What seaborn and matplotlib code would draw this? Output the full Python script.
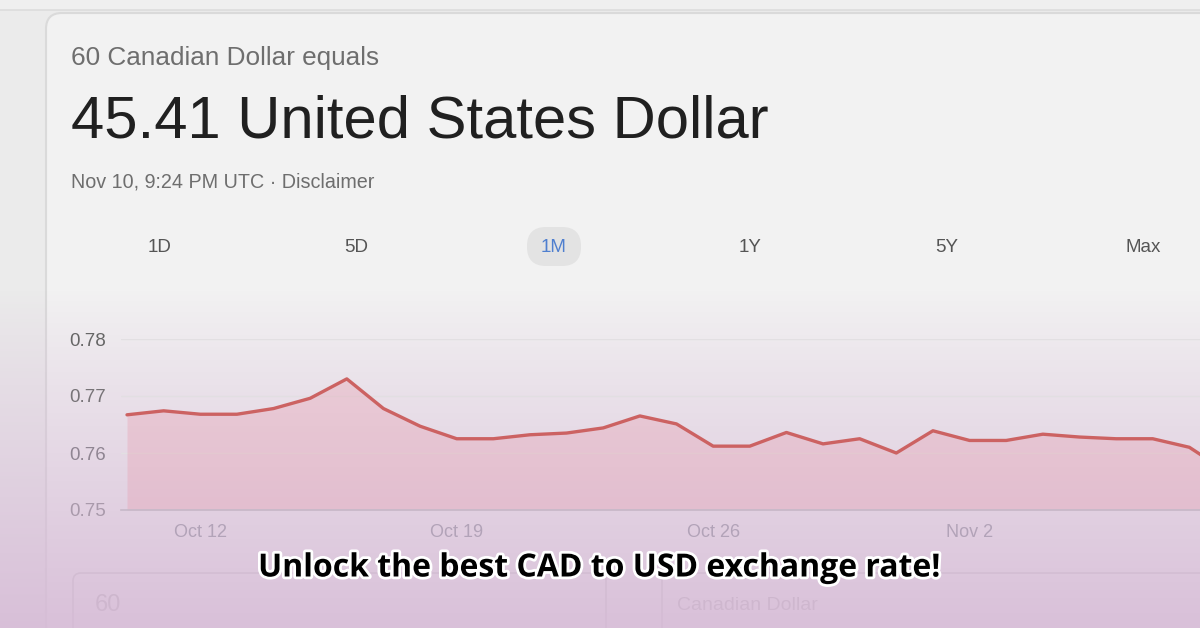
import numpy as np
import pandas as pd
import seaborn as sns
import matplotlib.pyplot as plt
import matplotlib.patheffects as pe
from matplotlib.patches import FancyBboxPatch

# daily CAD -> USD rate
dates = pd.date_range('2023-10-10', '2023-11-09', freq='D')
rates = [0.7667, 0.7674, 0.7668, 0.7668, 0.7678, 0.7696, 0.7730, 0.7678,
         0.7647, 0.7625, 0.7625, 0.7632, 0.7635, 0.7644, 0.7665, 0.7651,
         0.7612, 0.7612, 0.7636, 0.7616, 0.7625, 0.7600, 0.7639, 0.7622,
         0.7622, 0.7633, 0.7628, 0.7625, 0.7625, 0.7610, 0.7568]
tick_dates = pd.to_datetime(['2023-10-12', '2023-10-19', '2023-10-26', '2023-11-02'])
tick_labels = ['Oct 12', 'Oct 19', 'Oct 26', 'Nov 2']
y_ticks = [0.75, 0.76, 0.77, 0.78]
ranges = ['1D', '5D', '1M', '1Y', '5Y', 'Max']

df = pd.DataFrame({'date': dates, 'rate': rates})

sns.set_theme(style='white')
plt.rcParams['font.family'] = ['Liberation Sans', 'DejaVu Sans']

W, H = 1200, 628
fig = plt.figure(figsize=(12, 6.28), dpi=100)
fig.patch.set_facecolor('#ebebeb')

# background layer in pixel coordinates
bg = fig.add_axes([0, 0, 1, 1])
bg.set_xlim(0, W)
bg.set_ylim(H, 0)
bg.axis('off')
bg.set_facecolor('#ebebeb')

# strip of the card above
bg.add_patch(FancyBboxPatch((-20, -40), 1260, 50, boxstyle='round,pad=0,rounding_size=10',
                            facecolor='#efefef', edgecolor='#dcdcdc', linewidth=1.2, zorder=1))
card = FancyBboxPatch((46, 13), 1200, 700, boxstyle='round,pad=0,rounding_size=16',
                      facecolor='#f2f2f2', edgecolor='#dadada', linewidth=1.5, zorder=1)
bg.add_patch(card)

bg.text(71, 58, '60 Canadian Dollar equals', fontsize=18.8, color='#6e6e6e', va='center', zorder=3)
bg.text(71, 122, '45.41 United States Dollar', fontsize=43, color='#202020', va='center', zorder=3)
bg.text(71, 182, 'Nov 10, 9:24 PM UTC · Disclaimer', fontsize=14.2, color='#6e6e6e', va='center', zorder=3)

pill = FancyBboxPatch((527, 227), 54, 39, boxstyle='round,pad=0,rounding_size=19',
                      facecolor='#e3e3e3', edgecolor='none', zorder=2)
bg.add_patch(pill)
for i, r in enumerate(ranges):
    bg.text(160 + i * 196.6, 248, r, fontsize=13.5, ha='center', va='center',
            color='#4f7fcf' if r == '1M' else '#555555', zorder=3)

# input boxes at the bottom (faded by the overlay)
bg.add_patch(FancyBboxPatch((73, 573), 533, 100, boxstyle='round,pad=0,rounding_size=8',
                            facecolor='none', edgecolor='#c8c8c8', linewidth=1.2, zorder=2))
bg.add_patch(FancyBboxPatch((662, 573), 600, 100, boxstyle='round,pad=0,rounding_size=8',
                            facecolor='none', edgecolor='#c8c8c8', linewidth=1.2, zorder=2))
bg.text(95, 605, '60', fontsize=17, color='#a8a8a8', va='center', zorder=2)
bg.text(677, 605, 'Canadian Dollar', fontsize=14, color='#a8a8a8', va='center', zorder=2)

# pink gradient overlay over the lower part
yy = np.arange(H)
alpha = np.clip((yy - 290) / 338.0, 0, 1) ** 0.9 * 0.9
grad = np.zeros((H, 1, 4))
grad[:, 0, 0] = 214 / 255
grad[:, 0, 1] = 186 / 255
grad[:, 0, 2] = 214 / 255
grad[:, 0, 3] = alpha
bg.imshow(grad, extent=(0, W, H, 0), aspect='auto', zorder=5)
bg.set_xlim(0, W)
bg.set_ylim(H, 0)

# chart
ax = fig.add_axes([121 / W, (H - 510) / H, 1 - 121 / W, (510 - 339) / H])
ax.patch.set_alpha(0)
x0 = dates[0]
ax.set_xlim(x0 - pd.Timedelta(days=0.164), x0 + pd.Timedelta(days=29.29))
ax.set_ylim(0.75, 0.78)
ax.fill_between(df['date'], df['rate'], 0.75, color='#e89aac', alpha=0.33, linewidth=0, zorder=1)
sns.lineplot(data=df, x='date', y='rate', ax=ax, color='#cc6262', linewidth=2.4, zorder=3)
ax.set_xlabel('')
ax.set_ylabel('')

for v in y_ticks[1:]:
    ax.axhline(v, color='#e2dfe2', linewidth=1, zorder=0)
for s in ['top', 'right', 'left']:
    ax.spines[s].set_visible(False)
ax.spines['bottom'].set_color('#c6b8c8')
ax.spines['bottom'].set_linewidth(1.2)

ax.set_yticks(y_ticks)
ax.set_yticklabels([f'{v:.2f}' for v in y_ticks], fontsize=13.5)
ax.tick_params(axis='y', length=0, pad=11)
for lab, c in zip(ax.get_yticklabels(), ['#a99aab', '#8f8592', '#777377', '#666666']):
    lab.set_color(c)

ax.set_xticks(tick_dates)
ax.set_xticklabels(tick_labels, fontsize=13, color='#b2a3b8')
ax.tick_params(axis='x', length=7, width=1, color='#c6b8c8', pad=3, direction='out')

fig.text(0.5, (H - 568) / H, 'Unlock the best CAD to USD exchange rate!',
         fontsize=23, fontweight='bold', family=['Open Sans', 'DejaVu Sans'],
         color='black', ha='center', va='center',
         path_effects=[pe.withStroke(linewidth=4, foreground='white')])

fig.savefig('out.png', dpi=100)
